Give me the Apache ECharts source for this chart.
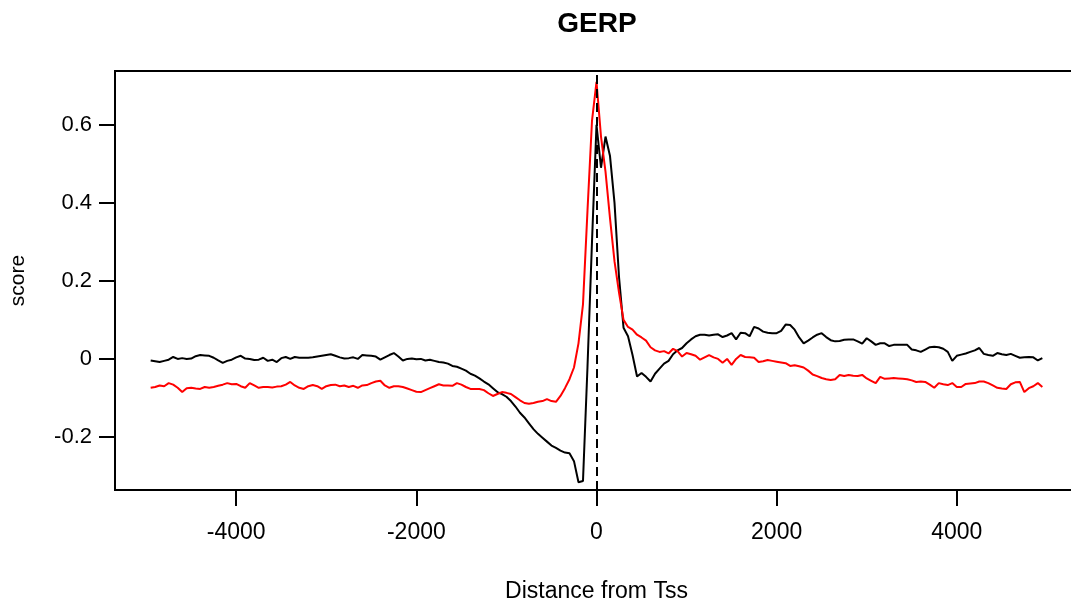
<!DOCTYPE html>
<html>
<head>
<meta charset="utf-8">
<script src="https://cdn.jsdelivr.net/npm/echarts@6/dist/echarts.min.js"></script>
<style>
html,body{margin:0;padding:0;background:#fff;overflow:hidden;width:1071px;height:602px;}
#chart{width:1080px;height:602px;}
</style>
</head>
<body>
<div id="chart"></div>
<script>
// Bin centres (bp from TSS), 50 bp bins from -4950 to 4950
var binStart = -4950, binStep = 50;

// Black series (GERP score), one value per bin
var blackScores = [
  // -4950 .. -4000
  -0.004,-0.006,-0.008,-0.005,-0.002,0.005,0.000,0.002,0.000,0.001,
  0.007,0.010,0.009,0.008,0.003,-0.004,-0.010,-0.005,-0.002,0.004,
  // -3950 .. -3000
  0.008,0.001,0.000,-0.003,-0.002,0.003,-0.005,-0.002,-0.008,0.002,
  0.005,0.000,0.005,0.003,0.003,0.003,0.004,0.006,0.008,0.010,
  // -2950 .. -2000
  0.012,0.008,0.004,0.001,0.002,0.004,0.000,0.010,0.009,0.008,
  0.006,-0.002,0.004,0.010,0.015,0.006,-0.004,0.000,0.001,-0.001,
  // -1950 .. -1000
  0.000,-0.004,-0.002,-0.005,-0.008,-0.009,-0.012,-0.018,-0.020,-0.025,
  -0.030,-0.038,-0.043,-0.050,-0.058,-0.065,-0.075,-0.085,-0.090,-0.097,
  // -950 .. 0
  -0.108,-0.122,-0.138,-0.150,-0.165,-0.180,-0.192,-0.202,-0.212,-0.222,
  -0.228,-0.235,-0.240,-0.242,-0.262,-0.316,-0.313,-0.020,0.300,0.600,
  // 50 .. 1000
  0.490,0.570,0.520,0.400,0.210,0.080,0.058,0.010,-0.045,-0.036,
  -0.046,-0.058,-0.038,-0.025,-0.012,-0.005,0.012,0.022,0.028,0.040,
  // 1050 .. 2000
  0.050,0.058,0.062,0.062,0.060,0.062,0.063,0.056,0.060,0.066,
  0.050,0.067,0.066,0.058,0.082,0.078,0.070,0.067,0.066,0.066,
  // 2050 .. 3000
  0.072,0.088,0.087,0.075,0.055,0.040,0.047,0.055,0.062,0.066,
  0.056,0.048,0.045,0.046,0.049,0.050,0.050,0.045,0.039,0.053,
  // 3050 .. 4000
  0.045,0.036,0.040,0.040,0.033,0.036,0.036,0.036,0.036,0.024,
  0.022,0.018,0.024,0.030,0.031,0.030,0.026,0.018,-0.005,0.008,
  // 4050 .. 4950
  0.011,0.014,0.018,0.022,0.028,0.013,0.010,0.008,0.015,0.012,
  0.010,0.013,0.008,0.003,0.004,0.005,0.004,-0.004,0.002
];

// Red series (GERP score), one value per bin
var redScores = [
  // -4950 .. -4000
  -0.074,-0.072,-0.068,-0.070,-0.062,-0.066,-0.074,-0.085,-0.075,-0.074,
  -0.076,-0.077,-0.072,-0.074,-0.072,-0.069,-0.066,-0.062,-0.065,-0.064,
  // -3950 .. -3000
  -0.070,-0.074,-0.062,-0.068,-0.074,-0.072,-0.072,-0.073,-0.071,-0.070,
  -0.066,-0.059,-0.068,-0.074,-0.077,-0.070,-0.067,-0.070,-0.077,-0.070,
  // -2950 .. -2000
  -0.067,-0.066,-0.070,-0.068,-0.072,-0.069,-0.074,-0.068,-0.067,-0.062,
  -0.058,-0.056,-0.068,-0.074,-0.070,-0.070,-0.072,-0.076,-0.080,-0.084,
  // -1950 .. -1000
  -0.085,-0.080,-0.075,-0.070,-0.065,-0.068,-0.068,-0.069,-0.062,-0.066,
  -0.072,-0.077,-0.077,-0.077,-0.080,-0.088,-0.095,-0.090,-0.085,-0.087,
  // -950 .. 0
  -0.090,-0.098,-0.106,-0.113,-0.115,-0.113,-0.110,-0.108,-0.103,-0.108,
  -0.110,-0.095,-0.075,-0.052,-0.022,0.040,0.140,0.380,0.610,0.710,
  // 50 .. 1000
  0.570,0.480,0.360,0.250,0.170,0.100,0.082,0.075,0.062,0.055,
  0.047,0.030,0.022,0.018,0.020,0.014,0.026,0.020,0.006,0.015,
  // 1050 .. 2000
  0.012,0.008,-0.002,0.004,0.010,0.004,0.000,-0.010,0.000,-0.015,
  0.000,0.010,0.005,0.004,0.003,-0.008,-0.006,-0.003,-0.005,-0.007,
  // 2050 .. 3000
  -0.009,-0.011,-0.018,-0.016,-0.019,-0.022,-0.030,-0.040,-0.044,-0.049,
  -0.052,-0.054,-0.052,-0.041,-0.044,-0.041,-0.043,-0.044,-0.041,-0.050,
  // 3050 .. 4000
  -0.056,-0.062,-0.046,-0.051,-0.050,-0.049,-0.050,-0.051,-0.052,-0.055,
  -0.059,-0.058,-0.059,-0.066,-0.074,-0.062,-0.065,-0.067,-0.062,-0.072,
  // 4050 .. 4950
  -0.072,-0.064,-0.063,-0.062,-0.058,-0.058,-0.062,-0.068,-0.074,-0.076,
  -0.077,-0.065,-0.060,-0.059,-0.085,-0.075,-0.070,-0.062,-0.072
];

var xTicks = [-4000, -2000, 0, 2000, 4000];
var yTicks = [-0.2, 0, 0.2, 0.4, 0.6];
var tssPosition = 0;

function pairs(vals) {
  var out = [];
  for (var i = 0; i < vals.length; i++) out.push([binStart + i * binStep, vals[i]]);
  return out;
}

var FONT = '"Liberation Sans", Arial, Helvetica, sans-serif';
var chart = echarts.init(document.getElementById('chart'), null, {renderer: 'canvas'});
chart.setOption({
  animation: false,
  backgroundColor: '#ffffff',
  title: {
    text: 'GERP', left: 592, top: 5, textAlign: 'center',
    textStyle: {fontFamily: FONT, fontWeight: 'bold', fontSize: 28, color: '#000'}
  },
  grid: {
    left: 115, top: 71, width: 963, height: 419,
    outerBoundsMode: 'none', containLabel: false,
    show: true, borderColor: '#000', borderWidth: 2, backgroundColor: 'transparent'
  },
  xAxis: {
    type: 'value', min: -5346, max: 5346,
    name: 'Distance from Tss', nameLocation: 'middle', nameGap: 90,
    nameTextStyle: {fontFamily: FONT, fontSize: 23, color: '#000'},
    splitLine: {show: false},
    axisLine: {show: true, onZero: false, lineStyle: {color: '#000', width: 2}},
    axisTick: {show: true, inside: false, length: 16, customValues: xTicks, lineStyle: {color: '#000', width: 2}},
    axisLabel: {show: true, margin: 31, customValues: xTicks, fontFamily: FONT, fontSize: 23, color: '#000',
      formatter: function (v) { return String(v); }}
  },
  yAxis: {
    type: 'value', min: -0.336, max: 0.738,
    name: 'score', nameLocation: 'middle', nameGap: 86, nameRotate: 90,
    nameTextStyle: {fontFamily: FONT, fontSize: 21, color: '#000'},
    splitLine: {show: false},
    axisLine: {show: true, onZero: false, lineStyle: {color: '#000', width: 2}},
    axisTick: {show: true, inside: false, length: 16, customValues: yTicks, lineStyle: {color: '#000', width: 2}},
    axisLabel: {show: true, margin: 23, customValues: yTicks, fontFamily: FONT, fontSize: 22, color: '#000',
      formatter: function (v) { return String(Math.round(v * 10) / 10); }}
  },
  series: [
    {
      type: 'line', data: pairs(blackScores), showSymbol: false, symbol: 'none',
      lineStyle: {color: '#000', width: 2}, z: 2,
      markLine: {
        silent: true, symbol: ['none', 'none'], label: {show: false},
        lineStyle: {color: '#000', width: 2, type: [9, 5]},
        data: [{xAxis: tssPosition}]
      }
    },
    {
      type: 'line', data: pairs(redScores), showSymbol: false, symbol: 'none',
      lineStyle: {color: '#ff0000', width: 2}, z: 3
    }
  ]
});
</script>
</body>
</html>
